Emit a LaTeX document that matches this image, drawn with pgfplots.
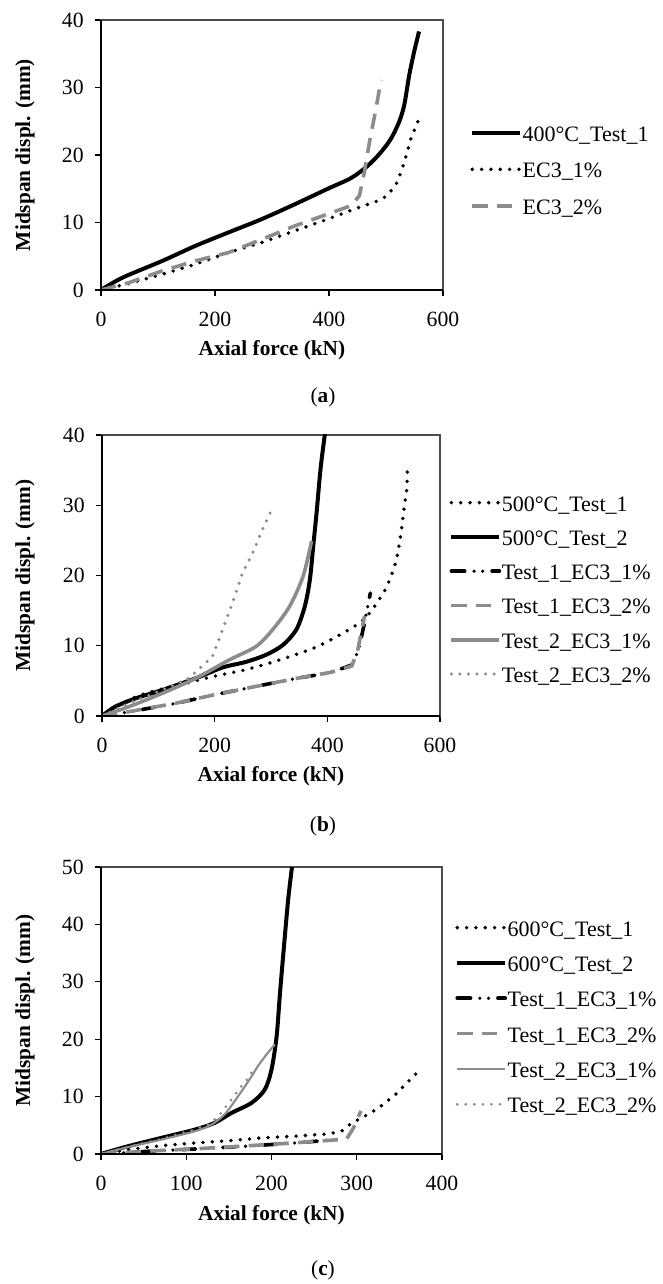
\documentclass[border=0pt]{standalone}
\usepackage{pgfplots}
\pgfplotsset{compat=1.18}
\usepackage{fontspec}
\setmainfont{Liberation Serif}
\definecolor{mgray}{RGB}{140,140,140}
\tikzset{
 sblack/.style={black, line width=3pt},
 dblack/.style={black, line width=2.9pt, line cap=round, dash pattern=on 0pt off 7pt},
 dgray/.style={mgray, line width=2.7pt, dash pattern=on 11.5pt off 7pt},
 ddblack/.style={black, line width=2.7pt, line cap=round, dash pattern=on 10pt off 7pt on 0pt off 6.5pt on 0pt off 7pt},
 sgray/.style={mgray, line width=2.7pt},
 sgraythin/.style={mgray, line width=1.6pt},
 pgray/.style={mgray, line width=2.6pt, line cap=round, dash pattern=on 0pt off 6.4pt},
}
\pgfplotsset{
 panel/.style={
  scale only axis,
  axis line style={black!70, line width=0.8pt},
  tick align=outside, xtick pos=left, ytick pos=left,
  major tick length=4.5pt,
  every tick/.style={black, line width=1pt},
  /pgf/number format/assume math mode=true,
  every tick label/.append style={font=\fontsize{16.3}{16}\selectfont},
  xticklabel style={yshift=-8.5pt},
  yticklabel style={xshift=-5pt},
  label style={font=\bfseries\fontsize{16}{16}\selectfont},
  xlabel={Axial force (kN)}, ylabel={Midspan displ. (mm)},
  legend cell align=left,
  legend image code/.code={\draw[##1] (0pt,2.6pt) -- (36pt,2.6pt);},
  legend style={draw=none, fill=none, inner sep=0pt, anchor=north west,
    column sep=0pt,
    font=\fontsize{16.5}{16}\selectfont,
    nodes={inner sep=0.3pt, text height=11.5pt, text depth=4pt}},
  after end axis/.code={\draw[black, line width=1.6pt] (rel axis cs:0,1) -- (rel axis cs:0,0) -- (rel axis cs:1,0);},
 }
}
\begin{document}
\begin{tikzpicture}
\useasboundingbox (0,0) rectangle (496.5pt,963pt);
% ---------------- (a)
\begin{axis}[panel, at={(75.75pt,745.5pt)}, anchor=south west,
  width=256.5pt, height=202.5pt,
  xmin=0, xmax=600, ymin=0, ymax=40,
  xtick={0,200,400,600}, ytick={0,10,20,30,40},
  xlabel style={at={(axis description cs:0.5,-0.222)}, anchor=center},
  ylabel style={at={(axis description cs:-0.222,0.5)}, anchor=center},
  legend style={at={(axis description cs:1.079,0.611)}, row sep=11.5pt}]
\addplot[sblack, smooth] coordinates {(0,0) (37.8,1.83) (107.6,4.31) (165.7,6.54) (223.8,8.53) (282,10.5) (340,12.7) (398,15.0) (439,16.6) (468,18.4) (491,20.4) (508.6,22.4) (523,24.9) (532,27.4) (540.7,31.8) (549.4,35.3) (558,38.3)};
\addlegendentry{400°C\_Test\_1}
\addplot[dblack] coordinates {(0,0) (43.6,0.84) (107.6,2.33) (165.7,3.82) (223.8,5.55) (282,7.04) (340,8.77) (398,10.5) (444.8,12.0) (485.5,13.2) (503,14.0) (520,16.0) (532,18.9) (543.6,22.4) (558,25.4)};
\addlegendentry{EC3\_1\%}
\addplot[dgray] coordinates {(0,0) (49.4,1.09) (107.6,2.83) (165.7,4.31) (223.8,5.55) (282,7.5) (340,9.5) (398,11.25) (439,12.5) (453.5,14.0) (462,17.45) (471,21.9) (482.5,26.9) (491.3,31.1)};
\addlegendentry{EC3\_2\%}
\end{axis}
\node[font=\fontsize{16}{16}\selectfont] at (242.25pt,665.25pt) {(\textbf{a})};
% ---------------- (b)
\begin{axis}[panel, at={(76.5pt,426pt)}, anchor=south west,
  width=253.5pt, height=210.75pt,
  xmin=0, xmax=600, ymin=0, ymax=40,
  xtick={0,200,400,600}, ytick={0,10,20,30,40},
  xlabel style={at={(axis description cs:0.5,-0.2135)}, anchor=center},
  ylabel style={at={(axis description cs:-0.228,0.5)}, anchor=center},
  legend style={at={(axis description cs:1.027,0.786)}, row sep=9.6pt}]
\addplot[dblack, smooth] coordinates {(0,0) (34.6,1.77) (76.4,3.2) (136,4.4) (196,5.6) (255.5,6.6) (315,7.97) (375,9.64) (416.7,11.3) (452.5,13.0) (470.4,14.2) (488,16.1) (506,18.5) (521,21.8) (530,25.6) (536,29.5) (541,32.3) (542,34.9)};
\addlegendentry{500°C\_Test\_1}
\addplot[sblack, smooth] coordinates {(0,0) (22.7,1.29) (58.5,2.48) (106,3.68) (166,5.35) (213.7,6.9) (255.5,7.7) (291,8.7) (321,10.1) (345,12.3) (360,15.6) (369,19.4) (375,24.2) (381,29.0) (388,35.2) (395.8,40.2)};
\addlegendentry{500°C\_Test\_2}
\addplot[ddblack] coordinates {(0,0) (46.6,0.57) (130,1.77) (196,2.96) (285,4.4) (345,5.35) (405,6.16) (443.6,7.26) (455.5,9.4) (464.5,12.7) (476.4,17.5)};
\addlegendentry{Test\_1\_EC3\_1\%}
\addplot[dgray] coordinates {(0,0) (46.6,0.6) (130,1.8) (196,2.96) (285,4.4) (345,5.35) (405,6.2) (443,7.1) (453,9.0) (460,11.8) (466,14.2)};
\addlegendentry{Test\_1\_EC3\_2\%}
\addplot[sgray, smooth] coordinates {(0,0) (46.6,1.29) (106,3.2) (166,5.35) (225.7,7.97) (273.4,9.9) (303,12.3) (333,15.6) (357,19.9) (372,24.9)};
\addlegendentry{Test\_2\_EC3\_1\%}
\addplot[pgray] coordinates {(0,0) (46.6,1.77) (106,3.68) (154,5.35) (196,8.45) (214,12.3) (231.6,16.1) (249.6,20.4) (267.5,23.2) (285,26.6) (300.3,29.2)};
\addlegendentry{Test\_2\_EC3\_2\%}
\end{axis}
\node[font=\fontsize{16}{16}\selectfont] at (242.25pt,343.5pt) {(\textbf{b})};
% ---------------- (c)
\begin{axis}[panel, at={(75.75pt,97.5pt)}, anchor=south west,
  width=255.75pt, height=215.25pt,
  xmin=0, xmax=400, ymin=0, ymax=50,
  xtick={0,100,200,300,400}, ytick={0,10,20,30,40,50},
  xlabel style={at={(axis description cs:0.5,-0.2125)}, anchor=center},
  ylabel style={at={(axis description cs:-0.223,0.5)}, anchor=center},
  legend style={at={(axis description cs:1.038,0.815)}, row sep=10.4pt}]
\addplot[dblack] coordinates {(0,0) (31.4,0.76) (70.6,1.45) (109.8,1.92) (149,2.3) (188,2.8) (227.5,3.1) (266.7,3.5) (282,3.95) (294,5.4) (306,6.3) (325.5,8.0) (345,10.3) (360.8,12.7) (374.5,14.7)};
\addlegendentry{600°C\_Test\_1}
\addplot[sblack, smooth] coordinates {(0,0) (31.4,1.34) (70.6,2.8) (109.8,4.24) (133,5.4) (153,7.15) (176.5,8.9) (192,11.2) (200,14.7) (206,20.5) (210,28.1) (215,36.8) (219.6,44.4) (224,50)};
\addlegendentry{600°C\_Test\_2}
\addplot[ddblack] coordinates {(0,0) (55,0.47) (110,0.87) (168.6,1.34) (227.5,1.92) (274.5,2.5) (282,3.5)};
\addlegendentry{Test\_1\_EC3\_1\%}
\addplot[dgray] coordinates {(0,0) (55,0.5) (110,0.9) (168.6,1.4) (227.5,1.95) (288,2.6) (296,4.5) (305,7.5)};
\addlegendentry{Test\_1\_EC3\_2\%}
\addplot[sgraythin, smooth] coordinates {(0,0) (31.4,1.2) (70.6,2.5) (109.8,3.95) (129.4,5.1) (145,6.9) (161,10.1) (176.5,13.5) (184,15.3) (194,17.3) (204,19.1)};
\addlegendentry{Test\_2\_EC3\_1\%}
\addplot[pgray, line width=2.3pt] coordinates {(0,0) (31.4,1.2) (70.6,2.6) (109.8,4.24) (129.4,5.4) (141,7.15) (153,9.5) (164.7,11.8) (174.5,13.5) (180,15.3)};
\addlegendentry{Test\_2\_EC3\_2\%}
\end{axis}
\node[font=\fontsize{16}{16}\selectfont] at (242.25pt,10.5pt) {(\textbf{c})};
\end{tikzpicture}
\end{document}
